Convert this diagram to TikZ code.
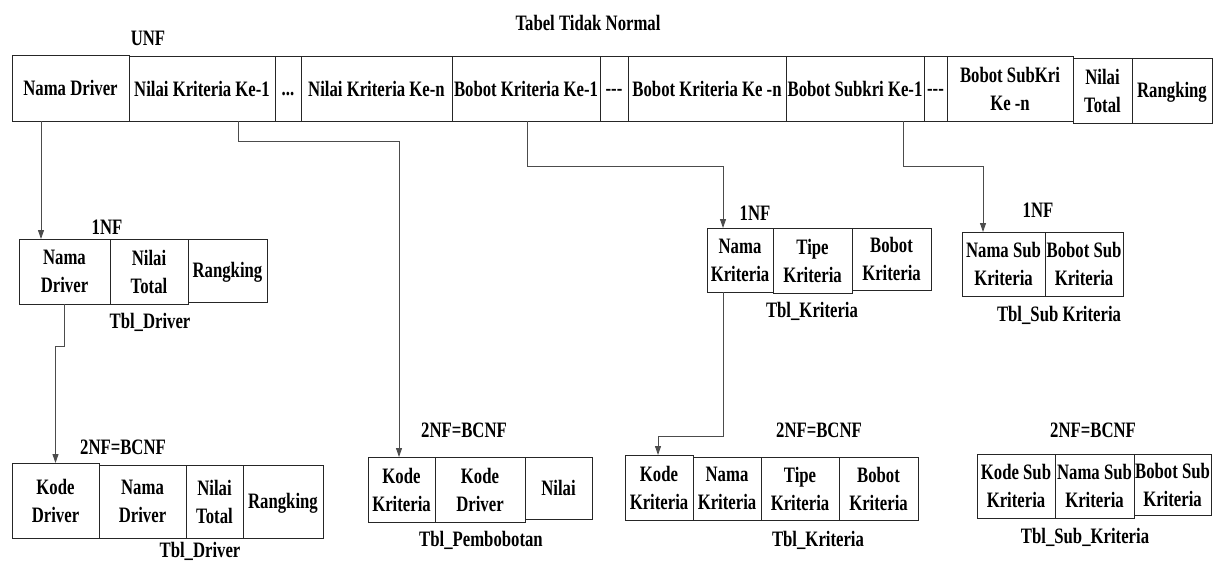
\documentclass[tikz,border=0pt]{standalone}
\usepackage{fontspec}
\setmainfont{Liberation Serif}[FakeStretch=0.76]
\usetikzlibrary{arrows.meta}

\tikzset{
  cellbox/.style={draw=black!85, line width=1pt, inner sep=0pt, outer sep=0pt},
  celltext/.style={font=\fontsize{22}{28}\selectfont\bfseries, align=center, inner sep=0pt},
  caption/.style={font=\fontsize{22}{28}\selectfont\bfseries, inner sep=0pt},
  conn/.style={draw=black!70, line width=0.9pt, -{Triangle[length=9pt,width=6pt]}}
}

% one table cell: name, left, top, right, bottom, text
\newcommand\tcell[6]{%
  \node[cellbox, minimum width={(#4-#2)*1pt}, minimum height={(#5-#3)*1pt}]
    (#1) at ({(#2+#4)/2},{(#3+#5)/2}) {};
  \node[celltext] (#1-t) at (#1.center) {#6};
}
% a single line set on the cap height, descenders ignored
\newcommand\capline[1]{\raisebox{0pt}[\fontcharht\font`N][0pt]{#1}}

\begin{document}
\begin{tikzpicture}[x=1pt,y=-1pt]
\useasboundingbox (0,0) rectangle (1225,560);

% unnormalised table
\node[caption] (title) at (588,23) {Tabel Tidak Normal};
\node[caption] (unf) at (148,38) {UNF};
\tcell{c1}{12}{55}{129}{121}{Nama Driver}
\tcell{c2}{129}{56}{275}{121}{Nilai Kriteria Ke-1}
\tcell{c3}{275}{56}{301}{121}{\capline{...}}
\tcell{c4}{301}{56}{452}{121}{Nilai Kriteria Ke-n}
\tcell{c5}{452}{56}{600}{121}{Bobot Kriteria Ke-1}
\tcell{c6}{600}{56}{628}{121}{\capline{-{}-{}-}}
\tcell{c7}{628}{56}{786}{121}{Bobot Kriteria Ke -n}
\tcell{c8}{786}{56}{924}{121}{Bobot Subkri Ke-1}
\tcell{c9}{924}{56}{947}{121}{\capline{-{}-{}-}}
\tcell{c10}{947}{56}{1073}{121}{Bobot SubKri\\Ke -n}
\tcell{c11}{1073}{58}{1132}{123}{Nilai\\Total}
\tcell{c12}{1132}{58}{1212}{123}{\capline{Rangking}}

% 1NF: driver
\node[caption] (d-nf) at (107,227) {1NF};
\tcell{d1}{19}{239}{110}{304}{Nama\\Driver}
\tcell{d2}{110}{239}{188}{304}{Nilai\\Total}
\tcell{d3}{188}{239}{267}{302}{\capline{Rangking}}
\node[caption] (d-name) at (150,322) {Tbl\_Driver};

% 1NF: kriteria
\node[caption] (k-nf) at (755,213) {1NF};
\tcell{k1}{707}{228}{773}{292}{Nama\\Kriteria}
\tcell{k2}{773}{228}{852}{293}{Tipe\\Kriteria}
\tcell{k3}{852}{228}{931}{290}{Bobot\\Kriteria}
\node[caption] (k-name) at (812,311) {Tbl\_Kriteria};

% 1NF: sub kriteria
\node[caption] (s-nf) at (1038,210) {1NF};
\tcell{s1}{962}{232}{1045}{296}{Nama Sub\\Kriteria}
\tcell{s2}{1045}{232}{1123}{296}{Bobot Sub\\Kriteria}
\node[caption] (s-name) at (1059,315) {Tbl\_Sub Kriteria};

% 2NF = BCNF: driver
\node[caption] (e-nf) at (123,447) {2NF=BCNF};
\tcell{e1}{12}{463}{99}{538}{Kode\\Driver}
\tcell{e2}{99}{465}{186}{538}{Nama\\Driver}
\tcell{e3}{186}{465}{243}{538}{Nilai\\Total}
\tcell{e4}{243}{465}{323}{538}{\capline{Rangking}}
\node[caption] (e-name) at (200,551) {Tbl\_Driver};

% 2NF = BCNF: pembobotan
\node[caption] (p-nf) at (464,430) {2NF=BCNF};
\tcell{p1}{368}{457}{435}{522}{Kode\\Kriteria}
\tcell{p2}{435}{457}{525}{522}{Kode\\Driver}
\tcell{p3}{525}{457}{592}{519}{Nilai}
\node[caption] (p-name) at (481,540) {Tbl\_Pembobotan};

% 2NF = BCNF: kriteria
\node[caption] (q-nf) at (819,430) {2NF=BCNF};
\tcell{q1}{625}{455}{693}{520}{Kode\\Kriteria}
\tcell{q2}{693}{457}{761}{520}{Nama\\Kriteria}
\tcell{q3}{761}{457}{839}{520}{Tipe\\Kriteria}
\tcell{q4}{839}{457}{918}{520}{Bobot\\Kriteria}
\node[caption] (q-name) at (818,540) {Tbl\_Kriteria};

% 2NF = BCNF: sub kriteria
\node[caption] (r-nf) at (1093,430) {2NF=BCNF};
\tcell{r1}{977}{454}{1055}{518}{Kode Sub\\Kriteria}
\tcell{r2}{1055}{454}{1134}{518}{Nama Sub\\Kriteria}
\tcell{r3}{1134}{454}{1211}{515}{Bobot Sub\\Kriteria}
\node[caption] (r-name) at (1085,537) {Tbl\_Sub\_Kriteria};

% decomposition links
\draw[conn] ([xshift=-29.5pt]c1.south) -- ([xshift=-23.5pt]d1.north);
\draw[conn] ([xshift=36pt]c2.south) -- ++(0,20) -| ([xshift=-2.5pt]p1.north);
\draw[conn] ([xshift=1pt]c5.south) -- ++(0,45) -| ([xshift=-17pt]k1.north);
\draw[conn] ([xshift=48pt]c8.south) -- ++(0,45) -| ([xshift=-20.5pt]s1.north);
\draw[conn] (d1.south) -- ++(0,42) -| (e1.north);
\draw[conn] ([xshift=-17pt]k1.south) -- ++(0,144) -| ([xshift=-1pt]q1.north);
\end{tikzpicture}
\end{document}
